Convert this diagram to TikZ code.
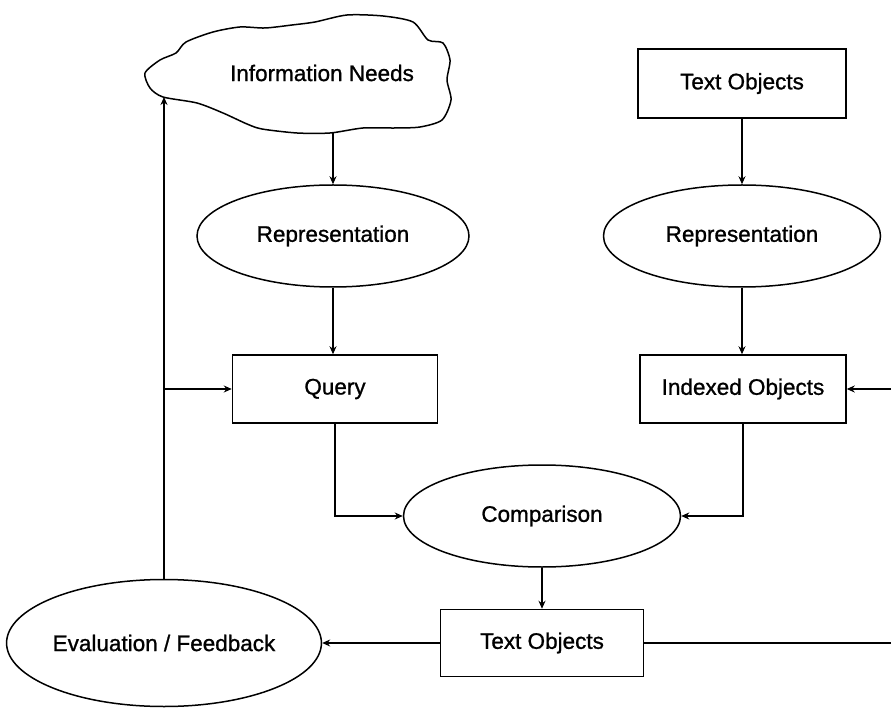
\documentclass[tikz,border=0pt]{standalone}
\usepackage{fontspec}
\setmainfont[FakeBold=1]{Liberation Sans}
\usetikzlibrary{shapes.geometric,arrows.meta,calc}
\begin{document}
\begin{tikzpicture}[x=1pt,y=-1pt,
  every node/.style={font=\fontsize{22.5}{27}\selectfont, inner sep=0pt},
  box/.style={draw, line width=1.5pt, rectangle, minimum height=68pt},
  oval/.style={draw, line width=1.5pt, ellipse},
  conn/.style={line width=1.5pt},
  arr/.style={conn, -{Stealth[length=8pt,width=7pt]}}]
\useasboundingbox[fill=white] (0,0) rectangle (891,708);

% cloud
\draw[line width=1.5pt] plot[smooth cycle, tension=0.45] coordinates {
 (145,73) (160,60) (176,53) (186,42) (213,32) (240,27) (265,28) (292,25)
 (315,22) (347,15) (383,16) (413,22) (428,40) (443,43) (450,60) (447,80)
 (451,100) (442,120) (420,127) (395,128) (363,128) (330,133) (297,133)
 (262,129) (247,124) (223,113) (197,103) (163,97) (150,88)};
\node (need) at (322,73) {Information Needs};
\coordinate (cloudL) at (163,97);
\coordinate (cloudB) at (333,133);

\node[box, minimum width=208pt, minimum height=69pt] (txt1) at (742,83.5) {Text Objects};
\node[oval, minimum width=272pt, minimum height=102pt] (repL) at (333,236) {Representation};
\node[oval, minimum width=277pt, minimum height=102pt] (repR) at (742,236) {Representation};
\node[box, minimum width=205pt] (query) at (335,389) {Query};
\node[box, minimum width=206pt] (idx) at (743,389) {Indexed Objects};
\node[oval, minimum width=277pt, minimum height=102pt] (comp) at (542,516) {Comparison};
\node[box, minimum width=203pt, minimum height=67pt] (txt2) at (542,643) {Text Objects};
\node[oval, minimum width=314pt, minimum height=127pt] (eval) at (164,643) {Evaluation / Feedback};

\coordinate (inR) at (891,389);
\coordinate (outR) at (891,643);

\draw[arr] (cloudB) -- (repL.north);
\draw[arr] (txt1.south) -- (repR.north);
\draw[arr] (repL.south) -- (repL.south |- query.north);
\draw[arr] (repR.south) -- (repR.south |- idx.north);
\draw[arr] (inR) -- (idx.east);
\draw[arr] (query.south) |- (comp.west);
\draw[arr] (idx.south) |- (comp.east);
\draw[arr] (comp.south) -- (txt2.north);
\draw[arr] (txt2.west) -- (eval.east);
\draw[conn] (txt2.east) -- (outR);
\draw[arr] (eval.north) -- (eval.north |- cloudL);
\draw[arr] (eval.north |- query.west) -- (query.west);
\end{tikzpicture}
\end{document}
